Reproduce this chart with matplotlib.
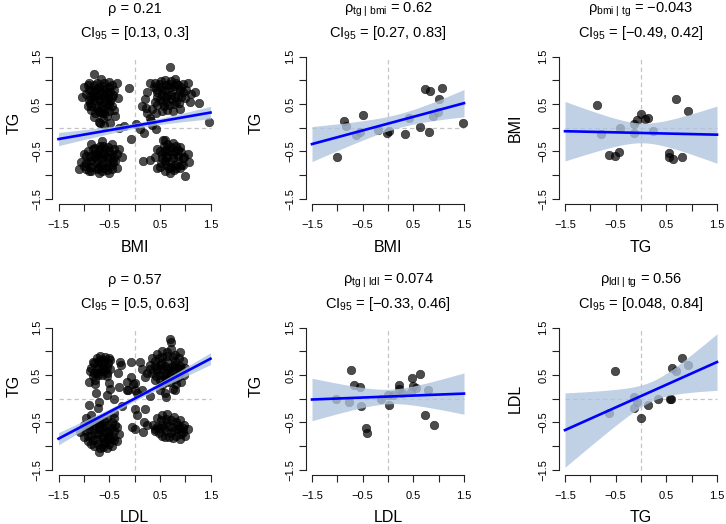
import numpy as np
import matplotlib
matplotlib.use("Agg")
import matplotlib.pyplot as plt

plt.rcParams["font.family"] = ["Liberation Sans", "DejaVu Sans"]
plt.rcParams["mathtext.fontset"] = "custom"
plt.rcParams["mathtext.rm"] = "Liberation Sans"
plt.rcParams["mathtext.it"] = "Liberation Sans:italic"

FIG_W, FIG_H = 726, 524
COL_LEFT = [58.5, 312.0, 565.0]   # pixel of x = -1.5 per column
ROW_TOP = [56.7, 327.7]           # pixel of y = 1.5 per row
SPAN_W, SPAN_H = 152.0, 142.0     # pixels covered by -1.5 .. 1.5
YLAB_X = [14.0, 256.5, 515.0]
XLAB_BASE = [195.5, 193.8]

# ---- data ----
ticks = [-1.5, -1.0, -0.5, 0.0, 0.5, 1.0, 1.5]
tick_labels = ["−1.5", "", "−0.5", "", "0.5", "", "1.5"]

titles_top = [
    "ρ = 0.21",
    "ρ" + r"$_{\mathrm{tg\ |\ bmi}}$" + " = 0.62",
    "ρ" + r"$_{\mathrm{bmi\ |\ tg}}$" + " = −0.043",
    "ρ = 0.57",
    "ρ" + r"$_{\mathrm{tg\ |\ ldl}}$" + " = 0.074",
    "ρ" + r"$_{\mathrm{ldl\ |\ tg}}$" + " = 0.56",
]
ci_text = ["[0.13, 0.3]", "[0.27, 0.83]", "[−0.49, 0.42]",
           "[0.5, 0.63]", "[−0.33, 0.46]", "[0.048, 0.84]"]
xlabels = ["BMI", "BMI", "TG", "LDL", "LDL", "TG"]
ylabels = ["TG", "TG", "BMI", "TG", "TG", "LDL"]
ylab_y = [122.5, 122.5, 127.5, 386.0, 386.0, 398.7]

# panel 1: BMI vs TG, all samples
p1_pts = [
    # upper left group
    (-0.79, 1.13), (-0.92, 0.90), (-1.04, 0.64), (-0.51, 0.97), (-0.35, 0.94), (-0.32, 0.62),
    (-0.41, 0.38), (-0.38, 0.24), (-0.68, 0.34), (-0.87, 0.52), (-0.71, 0.13), (-0.48, 0.09),
    (-0.85, 0.80), (-0.75, 0.95), (-0.62, 0.88), (-0.55, 0.75), (-0.70, 0.70), (-0.82, 0.65),
    (-0.92, 0.45), (-0.60, 0.55), (-0.50, 0.50), (-0.72, 0.48), (-0.65, 0.30), (-0.78, 0.30),
    (-0.55, 0.25), (-0.45, 0.65), (-0.95, 0.72), (-0.66, 1.02), (-0.58, 0.40), (-0.85, 0.38),
    (-0.40, 0.80), (-0.68, 0.60), (-0.76, 0.82), (-0.52, 0.62), (-0.62, 0.18), (-1.00, 0.85),
    (-0.90, 0.95), (-0.80, 0.90), (-0.70, 0.85), (-0.60, 0.95), (-0.50, 0.85), (-0.45, 0.90),
    (-0.90, 0.80), (-0.80, 0.78), (-0.68, 0.78), (-0.58, 0.82), (-0.48, 0.75), (-0.88, 0.65),
    (-0.78, 0.68), (-0.62, 0.72), (-0.52, 0.70), (-0.42, 0.70), (-0.90, 0.58), (-0.80, 0.58),
    (-0.70, 0.58), (-0.60, 0.65), (-0.48, 0.56), (-0.85, 0.45), (-0.75, 0.42), (-0.65, 0.45),
    (-0.55, 0.48), (-0.45, 0.45), (-0.70, 0.35), (-0.60, 0.30), (-0.50, 0.35), (-0.80, 0.22),
    # upper right group
    (0.71, 1.28), (0.20, 0.60), (0.15, 0.45), (0.25, 0.30), (0.32, 0.15), (0.55, 0.35),
    (0.75, 0.35), (0.90, 0.40), (1.20, 0.75), (1.28, 0.52), (1.10, 0.55), (1.05, 0.95),
    (0.80, 1.02), (0.60, 1.00), (0.38, 0.85), (0.30, 0.95), (0.45, 0.75), (0.55, 0.80),
    (0.65, 0.70), (0.75, 0.80), (0.85, 0.70), (0.95, 0.75), (0.50, 0.60), (0.62, 0.55),
    (0.72, 0.60), (0.82, 0.55), (0.92, 0.85), (0.40, 0.55), (0.35, 0.40), (0.48, 0.92),
    (0.68, 0.92), (1.00, 0.62), (0.58, 0.45), (0.42, 0.30), (0.25, 0.75), (0.85, 0.90),
    (0.40, 0.95), (0.52, 0.98), (0.62, 0.90), (0.72, 0.98), (0.82, 0.95), (0.95, 0.92),
    (0.42, 0.82), (0.52, 0.85), (0.60, 0.80), (0.70, 0.85), (0.78, 0.88), (0.90, 0.80),
    (1.02, 0.80), (0.45, 0.65), (0.55, 0.70), (0.62, 0.65), (0.72, 0.70), (0.80, 0.65),
    (0.92, 0.65), (0.45, 0.48), (0.55, 0.55), (0.68, 0.48), (0.78, 0.50), (0.88, 0.52),
    (0.65, 0.38), (1.12, 0.72),
    # lower left group
    (-1.10, -0.88), (-1.05, -0.72), (-1.00, -0.55), (-0.85, -0.35), (-0.65, -0.28), (-0.45, -0.35),
    (-0.30, -0.45), (-0.25, -0.62), (-0.35, -0.85), (-0.50, -0.95), (-0.70, -0.95), (-0.90, -0.92),
    (-0.90, -0.70), (-0.80, -0.55), (-0.70, -0.45), (-0.60, -0.55), (-0.50, -0.50), (-0.40, -0.62),
    (-0.55, -0.72), (-0.65, -0.65), (-0.75, -0.75), (-0.85, -0.82), (-0.60, -0.85), (-0.45, -0.78),
    (-0.95, -0.60), (-0.78, -0.62), (-0.68, -0.80), (-0.52, -0.40), (-0.38, -0.70), (-0.82, -0.45),
    (-1.00, -0.80), (-0.62, -0.38), (-0.72, -0.55), (-0.48, -0.62),
    (-0.95, -0.88), (-0.85, -0.92), (-0.75, -0.88), (-0.65, -0.92), (-0.55, -0.90), (-0.45, -0.88),
    (-0.95, -0.75), (-0.85, -0.72), (-0.72, -0.68), (-0.62, -0.75), (-0.52, -0.80), (-0.42, -0.72),
    (-0.92, -0.50), (-0.88, -0.60), (-0.75, -0.58), (-0.65, -0.55), (-0.55, -0.62), (-0.45, -0.55),
    (-0.35, -0.55), (-0.78, -0.42), (-0.68, -0.38), (-0.58, -0.45), (-0.40, -0.45), (-0.72, -0.85),
    # lower right group
    (0.17, -0.70), (0.30, -0.68), (0.45, -0.45), (0.60, -0.25), (0.75, -0.32), (0.90, -0.40),
    (1.05, -0.55), (1.08, -0.72), (1.00, -1.03), (0.78, -0.90), (0.60, -0.92), (0.45, -0.85),
    (0.55, -0.55), (0.65, -0.45), (0.75, -0.55), (0.85, -0.60), (0.95, -0.65), (0.60, -0.70),
    (0.70, -0.72), (0.80, -0.78), (0.52, -0.75), (0.68, -0.85), (0.90, -0.85), (0.62, -0.60),
    (0.72, -0.40), (0.85, -0.48), (0.40, -0.62), (0.95, -0.78), (0.58, -0.38),
    (0.50, -0.50), (0.60, -0.50), (0.70, -0.50), (0.80, -0.52), (0.92, -0.52), (0.55, -0.65),
    (0.65, -0.62), (0.75, -0.65), (0.85, -0.70), (0.98, -0.62), (0.50, -0.82), (0.62, -0.78),
    (0.72, -0.82), (0.82, -0.85), (0.92, -0.78), (0.70, -0.95), (0.82, -0.38), (0.65, -0.35),
    # in between
    (-0.69, 0.10), (-0.61, 0.06), (-0.20, 0.04), (0.03, 0.08), (-0.07, -0.23), (0.19, -0.11),
    (0.42, -0.03), (0.56, -0.25), (1.48, 0.11), (0.23, 0.42), (-0.10, 0.83), (-0.30, 0.00),
    (0.30, 0.20), (0.10, -0.02), (0.35, 0.05),
]
p1_line = [-0.24, 0.32]
p1_band_lo = [-0.38, -0.252, -0.128, -0.015, 0.068, 0.132, 0.19]
p1_band_hi = [-0.10, -0.042, 0.022, 0.095, 0.198, 0.322, 0.45]

# panel 4: LDL vs TG, all samples
p4_pts = [
    # upper left group
    (-0.85, 0.65), (-0.80, 0.75), (-0.75, 0.85), (-0.68, 0.90), (-0.60, 0.82), (-0.52, 0.75),
    (-0.48, 0.62), (-0.55, 0.55), (-0.65, 0.50), (-0.75, 0.55), (-0.82, 0.48), (-0.70, 0.68),
    (-0.62, 0.65), (-0.58, 0.88), (-0.78, 0.40), (-0.50, 0.85), (-0.88, 0.58),
    (-0.82, 0.78), (-0.72, 0.78), (-0.62, 0.75), (-0.55, 0.68), (-0.65, 0.58), (-0.75, 0.62),
    (-0.80, 0.55), (-0.68, 0.82), (-0.58, 0.60), (-0.72, 0.50),
    # upper right group
    (0.70, 1.27), (0.73, 1.20), (0.89, 0.99), (0.50, 0.18), (0.60, 0.11), (0.76, 0.21),
    (0.92, 0.35), (0.15, 0.62), (0.25, 0.55), (0.30, 0.72), (0.35, 0.85), (0.45, 0.95),
    (0.55, 1.00), (0.65, 0.98), (0.80, 0.92), (0.95, 0.80), (1.00, 0.65), (0.98, 0.50),
    (0.85, 0.45), (0.70, 0.35), (0.55, 0.30), (0.40, 0.40), (0.35, 0.55), (0.45, 0.65),
    (0.55, 0.75), (0.65, 0.80), (0.75, 0.70), (0.85, 0.65), (0.60, 0.55), (0.70, 0.55),
    (0.50, 0.50), (0.80, 0.80), (0.40, 0.80), (0.62, 0.42), (0.90, 0.55), (0.48, 0.85),
    (0.72, 1.05), (0.20, 0.45),
    (0.40, 0.70), (0.50, 0.72), (0.60, 0.70), (0.70, 0.65), (0.80, 0.72), (0.90, 0.70),
    (0.45, 0.58), (0.55, 0.62), (0.65, 0.62), (0.75, 0.58), (0.85, 0.55), (0.50, 0.40),
    (0.60, 0.45), (0.70, 0.45), (0.80, 0.42), (0.55, 0.88), (0.65, 0.90), (0.75, 0.88),
    (0.88, 0.85), (0.42, 0.48), (0.30, 0.62), (0.92, 0.62), (0.62, 0.35), (0.82, 0.32),
    # lower left group
    (-1.07, -0.70), (-1.00, -0.55), (-0.95, -0.40), (-0.85, -0.35), (-0.70, -0.45), (-0.55, -0.40),
    (-0.45, -0.50), (-0.35, -0.60), (-0.30, -0.75), (-0.35, -0.90), (-0.45, -1.00), (-0.55, -1.05),
    (-0.70, -1.13), (-0.80, -1.00), (-0.92, -0.90), (-1.00, -0.80), (-0.90, -0.65), (-0.80, -0.55),
    (-0.70, -0.65), (-0.60, -0.58), (-0.50, -0.68), (-0.42, -0.80), (-0.55, -0.85), (-0.65, -0.80),
    (-0.75, -0.85), (-0.85, -0.78), (-0.62, -0.95), (-0.78, -0.72), (-0.68, -0.52), (-0.52, -0.55),
    (-0.88, -0.50), (-0.40, -0.40), (-0.60, -0.70),
    (-0.92, -0.78), (-0.82, -0.88), (-0.72, -0.95), (-0.62, -1.02), (-0.50, -0.95), (-0.40, -0.88),
    (-0.90, -0.55), (-0.80, -0.65), (-0.72, -0.75), (-0.62, -0.82), (-0.50, -0.78), (-0.40, -0.68),
    (-0.78, -0.48), (-0.65, -0.62), (-0.55, -0.70), (-0.45, -0.62), (-0.70, -0.55), (-0.60, -0.48),
    (-0.85, -0.95), (-0.95, -0.68), (-0.58, -0.92), (-0.48, -0.85), (-0.68, -1.05), (-0.38, -0.55),
    # lower right group
    (0.37, -0.55), (0.45, -0.40), (0.55, -0.35), (0.65, -0.32), (0.78, -0.38), (0.90, -0.45),
    (0.98, -0.55), (1.05, -0.65), (1.00, -0.78), (0.90, -0.85), (0.75, -0.82), (0.60, -0.80),
    (0.48, -0.72), (0.55, -0.55), (0.65, -0.50), (0.75, -0.60), (0.85, -0.65), (0.62, -0.68),
    (0.72, -0.72), (0.50, -0.62), (0.82, -0.50), (0.95, -0.70), (0.40, -0.68),
    (0.52, -0.45), (0.62, -0.42), (0.72, -0.45), (0.85, -0.55), (0.58, -0.62), (0.68, -0.58),
    (0.78, -0.68), (0.90, -0.62), (0.55, -0.78), (0.68, -0.80), (0.82, -0.78), (0.95, -0.62),
    (0.92, -0.75), (0.45, -0.60),
    # in between
    (-0.77, 0.32), (-0.89, 0.36), (-0.48, 0.81), (-0.28, 0.77), (-0.06, 0.77), (0.11, 0.77),
    (-0.06, 0.46), (-0.15, 0.35), (-0.02, 0.32), (0.01, 0.18), (-0.15, 0.18), (0.04, 0.11),
    (0.14, 0.18), (-0.89, -0.13), (-0.71, -0.07), (-0.55, 0.07), (-0.48, 0.21), (-0.55, 0.49),
    (0.01, -0.21), (0.04, -0.35), (0.21, -0.21), (0.24, -0.56), (0.40, -0.63), (0.17, -0.70),
    (0.01, -0.63), (-0.30, 0.25), (-0.25, -0.15), (-0.40, 0.00), (0.30, 0.05), (-0.76, 0.11),
    (-0.50, 0.33), (-0.33, 0.54), (-0.27, 0.71), (0.00, 0.33), (-0.13, 0.18), (0.19, -0.49),
    (-0.04, -0.59), (-0.40, -0.31), (-0.73, -0.20), (0.62, 0.04), (0.79, 0.18),
]
p4_line = [-0.845, 0.845]
p4_band_lo = [-0.975, -0.658, -0.347, -0.05, 0.217, 0.468, 0.72]
p4_band_hi = [-0.715, -0.468, -0.217, 0.05, 0.347, 0.658, 0.97]

# panels 2, 3, 5, 6: partial residuals
p2_x = [-1.00, -0.86, -0.82, -0.64, -0.55, -0.49, -0.19, -0.01, 0.02, 0.34,
        0.42, 0.64, 0.74, 0.82, 0.80, 0.88, 0.98, 1.00, 1.06, 1.49]
p2_y = [-0.61, 0.15, 0.04, -0.15, -0.10, 0.27, -0.05, -0.12, -0.07, -0.14,
        0.20, 0.02, 0.82, 0.78, -0.09, 0.25, 0.34, 0.60, 0.83, 0.09]

p3_x = [-0.86, -0.78, -0.64, -0.52, -0.43, -0.41, -0.14, -0.14, -0.08, 0.00,
        0.08, 0.14, 0.24, 0.56, 0.56, 0.64, 0.70, 0.80, 0.92]
p3_y = [0.48, -0.14, -0.57, -0.59, -0.52, -0.01, 0.08, -0.12, 0.17, 0.28,
        0.18, 0.20, -0.08, -0.54, -0.62, -0.66, 0.60, -0.62, 0.36]

p5_x = [-1.02, -0.76, -0.73, -0.67, -0.56, -0.54, -0.43, -0.41, -0.14, 0.00, 0.02, 0.09,
        0.21, 0.22, 0.28, 0.45, 0.47, 0.49, 0.55, 0.64, 0.74, 0.78, 0.90]
p5_y = [-0.01, -0.08, 0.60, 0.30, 0.25, -0.15, -0.62, -0.72, -0.01, 0.08, -0.13, 0.08,
        0.28, 0.21, 0.11, 0.14, 0.44, 0.27, 0.23, 0.53, -0.35, 0.18, -0.56]

p6_x = [-0.64, -0.52, -0.14, -0.14, -0.07, 0.00, 0.13, 0.34, 0.57, 0.59, 0.62, 0.70, 0.80, 0.92]
p6_y = [-0.30, 0.58, 0.04, -0.20, -0.07, -0.40, -0.14, 0.00, -0.01, -0.01, 0.65, 0.58, 0.85, 0.72]


def t975(df):
    # Cornish-Fisher approximation of the 97.5% t quantile
    z = 1.959964
    return z + (z**3 + z) / (4 * df) + (5 * z**5 + 16 * z**3 + 3 * z) / (96 * df**2)


def lm_band(x, y, grid):
    x, y = np.asarray(x), np.asarray(y)
    n = len(x)
    slope, icpt = np.polyfit(x, y, 1)
    res = y - (icpt + slope * x)
    s = np.sqrt(res @ res / (n - 2))
    xm = x.mean()
    sxx = ((x - xm) ** 2).sum()
    fit = icpt + slope * grid
    half = t975(n - 2) * s * np.sqrt(1 / n + (grid - xm) ** 2 / sxx)
    return fit, fit - half, fit + half


panels = [
    dict(x=[p[0] for p in p1_pts], y=[p[1] for p in p1_pts], line=p1_line, lo=p1_band_lo, hi=p1_band_hi),
    dict(x=p2_x, y=p2_y),
    dict(x=p3_x, y=p3_y),
    dict(x=[p[0] for p in p4_pts], y=[p[1] for p in p4_pts], line=p4_line, lo=p4_band_lo, hi=p4_band_hi),
    dict(x=p5_x, y=p5_y),
    dict(x=p6_x, y=p6_y),
]

fig = plt.figure(figsize=(FIG_W / 100, FIG_H / 100), dpi=100)
grid = np.linspace(-1.5, 1.5, 121)

for i, p in enumerate(panels):
    r, c = divmod(i, 3)
    L, T = COL_LEFT[c], ROW_TOP[r]
    ex, ey = 0.04 * SPAN_W, 0.04 * SPAN_H
    ax = fig.add_axes([(L - ex) / FIG_W, 1 - (T + SPAN_H + ey) / FIG_H,
                       (SPAN_W + 2 * ex) / FIG_W, (SPAN_H + 2 * ey) / FIG_H])
    ax.set_xlim(-1.62, 1.62)
    ax.set_ylim(-1.62, 1.62)
    ax.patch.set_visible(False)

    ax.plot([-1.5, 1.5], [0, 0], color="#c4c4c4", lw=0.9, dashes=(3.5, 2.5), zorder=1)
    ax.plot([0, 0], [-1.5, 1.5], color="#c4c4c4", lw=0.9, dashes=(3.5, 2.5), zorder=1)

    ax.scatter(p["x"], p["y"], s=38, facecolor=(0, 0, 0, 0.7), edgecolor=(0, 0, 0, 0.75),
               linewidths=0.4, zorder=2)

    if "line" in p:
        ax.fill_between(ticks, p["lo"], p["hi"], color="#b0c4de", alpha=0.78, lw=0, zorder=3)
        ax.plot([-1.5, 1.5], p["line"], color="#0000ff", lw=1.9, zorder=4)
    else:
        fit, lo, hi = lm_band(p["x"], p["y"], grid)
        ax.fill_between(grid, lo, hi, color="#b0c4de", alpha=0.78, lw=0, zorder=3)
        ax.plot(grid, fit, color="#0000ff", lw=1.9, zorder=4)

    for side in ["top", "right"]:
        ax.spines[side].set_visible(False)
    for side in ["left", "bottom"]:
        ax.spines[side].set_bounds(-1.5, 1.5)
        ax.spines[side].set_linewidth(0.8)
        ax.spines[side].set_color("#222222")
    ax.set_xticks(ticks)
    ax.set_xticklabels(tick_labels)
    ax.set_yticks(ticks)
    ax.set_yticklabels(tick_labels, rotation=90, va="center")
    ax.tick_params(axis="both", length=5, width=0.8, color="#222222", labelsize=8)
    ax.tick_params(axis="x", pad=6)
    ax.tick_params(axis="y", pad=2.5)

    cx = (L + SPAN_W / 2) / FIG_W
    fig.text(cx, 1 - (T - 44) / FIG_H, titles_top[i], ha="center", va="baseline", fontsize=10.5)
    fig.text(cx, 1 - (T - 19.5) / FIG_H, r"CI$_{95}$ = " + ci_text[i],
             ha="center", va="baseline", fontsize=10.5)
    fig.text(cx, 1 - (T + XLAB_BASE[r]) / FIG_H, xlabels[i], ha="center", va="baseline", fontsize=11.5)
    fig.text(YLAB_X[c] / FIG_W, 1 - ylab_y[i] / FIG_H, ylabels[i], ha="center", va="center",
             rotation=90, fontsize=11.5)

fig.savefig("out.png", dpi=100)
